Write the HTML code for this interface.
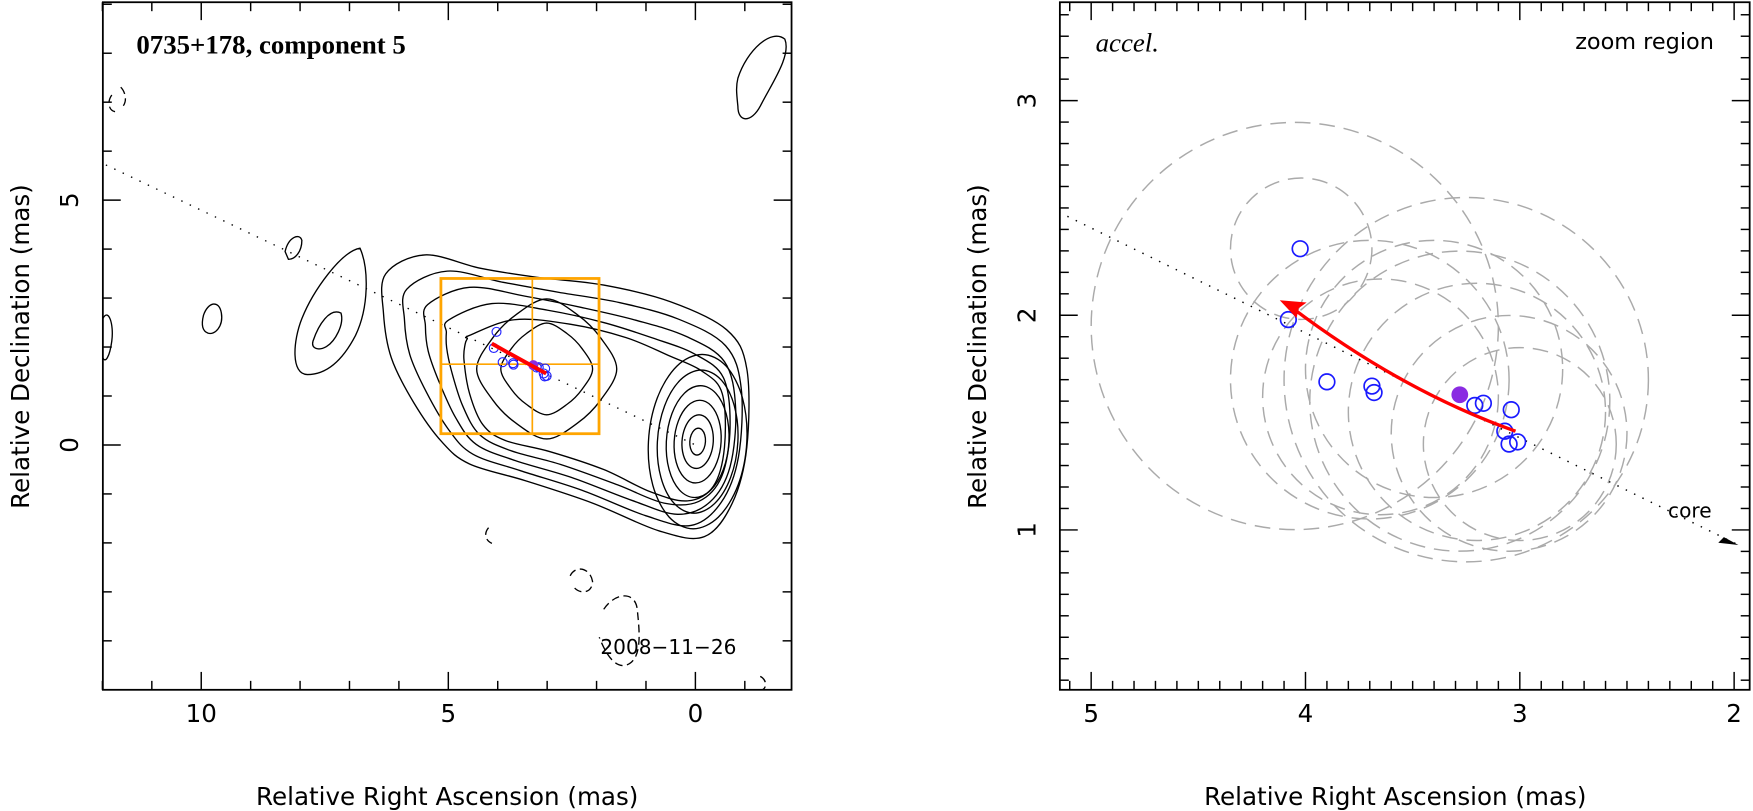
<!DOCTYPE html>
<html><head><meta charset="utf-8"><style>
html,body{margin:0;background:#fff;overflow:hidden;}
svg{display:block;font-family:"DejaVu Sans","Liberation Sans",sans-serif;}
</style></head><body>
<svg id="s" width="1753" height="811" viewBox="0 0 1753 811">
<defs>
<clipPath id="cl"><rect x="92" y="2" width="616" height="615"/></clipPath>
<clipPath id="cr"><rect x="948" y="2" width="617" height="615"/></clipPath>
</defs>
<g transform="scale(1.118)">
<g id="left"></g>
<g id="right"></g>
</g>
</svg>
<script>
// ---- data ----
const compRA=[4.025,4.08,3.90,3.69,3.68,3.21,3.17,3.04,3.07,3.05,3.01];
const compDec=[2.31,1.98,1.69,1.67,1.64,1.58,1.59,1.56,1.46,1.40,1.41];
const filledRA=[3.28];
const filledDec=[1.63];
const arrowRA=[3.02,3.55,4.12];
const arrowDec=[1.46,1.70,2.07];
const ringRA=[4.02,4.05,3.70,3.65,3.28,3.20,3.05,3.00,3.25,3.40];
const ringDec=[2.31,1.95,1.70,1.62,1.60,1.55,1.45,1.40,1.70,1.75];
const ringR=[0.33,0.95,0.65,0.55,0.70,0.60,0.55,0.45,0.85,0.60];
const leftXTicks=[0,5,10];
const leftYTicks=[0,5];
const rightXTicks=[2,3,4,5];
const rightYTicks=[1,2,3];

const NS="http://www.w3.org/2000/svg";
function mk(p,t,a){const e=document.createElementNS(NS,t);for(const k in a)e.setAttribute(k,a[k]);p.appendChild(e);return e;}
const lx=v=>622-44.2*v, ly=v=>398-43.8*v;
const rx=v=>976+(5-v)*191.7, ry=v=>90+(3-v)*192;
const L=document.getElementById('left'), R=document.getElementById('right');

function smooth(pts){let d=`M${pts[0][0]},${pts[0][1]}`;const n=pts.length;
 for(let i=0;i<n;i++){const p0=pts[(i-1+n)%n],p1=pts[i],p2=pts[(i+1)%n],p3=pts[(i+2)%n];
  d+=` C${p1[0]+(p2[0]-p0[0])/6},${p1[1]+(p2[1]-p0[1])/6} ${p2[0]-(p3[0]-p1[0])/6},${p2[1]-(p3[1]-p1[1])/6} ${p2[0]},${p2[1]}`;}
 return d+'Z';}

// ---------- LEFT ----------
const lp=mk(L,'g',{'clip-path':'url(#cl)'});


const outerShape=[[345,245],[380,228],[430,240],[480,248],[540,255],[600,270],[650,295],[668,330],[668,400],[655,450],[630,480],[590,475],[530,450],[470,430],[420,415],[395,395],[370,360],[350,320],[343,280]];
const innerShape=[[420,300],[460,286],[510,290],[560,302],[598,318],[628,332],[646,352],[648,400],[638,435],[615,448],[582,440],[540,420],[492,404],[452,394],[432,380],[420,352],[415,322],[416,308],[418,303]];
function cpath(d,name,dash){const p=mk(lp,'path',{d:d,fill:'none',stroke:'#000','stroke-width':1.2});
 if(dash)p.setAttribute('stroke-dasharray','7 4');
 
 }
for(let k=0;k<5;k++){const t=k/4;cpath(smooth(outerShape.map((p,i)=>[p[0]+(innerShape[i][0]-p[0])*t,p[1]+(innerShape[i][1]-p[1])*t])),'contour-merged-'+(k+1));}
[[58,58],[38,38]].forEach((r,i)=>{const cx=489,cy=330;const pts=[];for(let a=0;a<12;a++){const th=a/12*2*Math.PI;const w=1+0.08*Math.cos(4*th);pts.push([cx+r[0]*w*Math.cos(th),cy+r[1]*w*Math.sin(th)]);}
 cpath(smooth(pts),'contour-component-'+(i+1));});
[[44,78],[36,64],[28,50],[21,37],[14,24],[7,12]].forEach((r,i)=>{const cx=624,cy=395;const pts=[];for(let a=0;a<12;a++){const th=a/12*2*Math.PI;pts.push([cx+r[0]*Math.cos(th)-4*Math.sin(th)*(r[0]/44),cy+r[1]*Math.sin(th)]);}
 cpath(smooth(pts),'contour-core-'+(i+1));});
const others=[
"M270,285 C280,260 305,225 322,222 C330,240 330,275 318,300 C305,325 290,335 275,335 C260,335 262,305 270,285Z",
"M280,305 C285,290 295,275 305,280 C308,290 300,305 292,310 C285,314 278,312 280,305Z",
"M182,282 C186,270 196,268 198,280 C200,292 192,300 186,298 C181,296 180,290 182,282Z",
"M255,225 C258,212 268,208 270,215 C270,225 264,232 258,232Z",
"M92,285 C97,275 102,290 100,305 C98,320 94,325 92,320Z",
"M660,70 C668,45 690,25 702,35 C708,50 690,75 680,95 C672,110 660,110 660,95 C659,85 658,78 660,70Z"];
others.forEach((d,i)=>cpath(d,'contour-blob-'+(i+1)));
["M510,515 C515,505 528,508 530,520 C530,530 520,532 514,526","M540,545 C550,530 568,528 570,545 C572,565 575,590 560,595 C548,598 540,580 536,570","M437,472 C432,478 435,484 440,486","M108,78 C112,82 114,90 110,95 M100,85 C95,92 98,100 104,100","M680,605 C686,608 686,615 682,617"].forEach((d,i)=>cpath(d,'negative-contour-'+(i+1),true));
const ld=mk(lp,'line',{x1:lx(12.1),y1:ly(5.8),x2:lx(0),y2:ly(0),stroke:'#000','stroke-width':1.2,'stroke-dasharray':'1.3 7'});


const bx=mk(lp,'g',{stroke:'#ffa500','stroke-width':2.5,fill:'none'});


mk(bx,'rect',{x:lx(5.15),y:ly(3.4),width:lx(1.95)-lx(5.15),height:ly(0.23)-ly(3.4)});
mk(bx,'line',{x1:lx(3.3),y1:ly(3.4),x2:lx(3.3),y2:ly(0.23),'stroke-width':1.5});
mk(bx,'line',{x1:lx(5.15),y1:ly(1.65),x2:lx(1.95),y2:ly(1.65),'stroke-width':1.5});
compRA.forEach((v,i)=>{const c=mk(lp,'circle',{cx:lx(v),cy:ly(compDec[i]),r:4,fill:'none',stroke:'#2020ff','stroke-width':1});

});
filledRA.forEach((v,i)=>{const c=mk(lp,'circle',{cx:lx(v),cy:ly(filledDec[i]),r:4.5,fill:'#8a2be2'});

});
const la=mk(lp,'path',{d:`M${lx(arrowRA[0])},${ly(arrowDec[0])} Q${lx(arrowRA[1])},${ly(arrowDec[1])-2} ${lx(arrowRA[2])},${ly(arrowDec[2])}`,fill:'none',stroke:'#f00','stroke-width':3.5});


function frame(G,x0,y0,w,h,xt,yt,sx,sy,xmin,xmax,ymin,ymax,minor){
 const f=mk(G,'rect',{x:x0,y:y0,width:w,height:h,fill:'none',stroke:'#000','stroke-width':1.6});
 
 
 for(let v=Math.ceil(xmin/minor)*minor;v<=xmax+1e-9;v+=minor){const X=sx(v);const maj=Math.abs(v-Math.round(v/(xt[1]-xt[0]))*(xt[1]-xt[0]))<1e-6;const l=maj?16:8;
  mk(G,'line',{x1:X,y1:y0+h,x2:X,y2:y0+h-l,stroke:'#000','stroke-width':1.3});mk(G,'line',{x1:X,y1:y0,x2:X,y2:y0+l,stroke:'#000','stroke-width':1.3});}
 for(let v=Math.ceil(ymin/minor)*minor;v<=ymax+1e-9;v+=minor){const Y=sy(v);const maj=Math.abs(v-Math.round(v/(yt[1]-yt[0]))*(yt[1]-yt[0]))<1e-6;const l=maj?16:8;
  mk(G,'line',{x1:x0,y1:Y,x2:x0+l,y2:Y,stroke:'#000','stroke-width':1.3});mk(G,'line',{x1:x0+w,y1:Y,x2:x0+w-l,y2:Y,stroke:'#000','stroke-width':1.3});}
 xt.forEach(v=>{const t=mk(G,'text',{x:sx(v),y:y0+h+29,'text-anchor':'middle','font-size':22});t.textContent=v;
  
  });
 yt.forEach(v=>{const t=mk(G,'text',{x:x0-22,y:sy(v),'text-anchor':'middle','font-size':22,transform:`rotate(-90 ${x0-22} ${sy(v)})`});t.textContent=v;
  
  });
}
frame(L,92,2,616,615,leftXTicks,leftYTicks,lx,ly,-1.9,12.1,-4.9,9,1);
function txt(G,x,y,s,o,name){const t=mk(G,'text',Object.assign({x:x,y:y,'font-size':22},o||{}));t.textContent=s;
 
 return t;}
txt(L,122,48,'0735+178, component 5',{'font-family':'"Liberation Serif",serif','font-size':24,'font-weight':'bold'},'source-title');
txt(L,537,585,'2008−11−26',{'font-size':18},'epoch-label');
txt(L,400,720,'Relative Right Ascension (mas)',{'text-anchor':'middle'},'x-axis-title');
txt(L,26,310,'Relative Declination (mas)',{'text-anchor':'middle',transform:'rotate(-90 26 310)'},'y-axis-title');

// ---------- RIGHT ----------
const rp=mk(R,'g',{'clip-path':'url(#cr)'});


ringRA.forEach((v,i)=>{const c=mk(rp,'circle',{cx:rx(v),cy:ry(ringDec[i]),r:ringR[i]*191.7,fill:'none',stroke:'#aaa','stroke-width':1.3,'stroke-dasharray':'14 8'});

});
const rd=mk(rp,'line',{x1:rx(5.15),y1:ry(2.48),x2:rx(1.98),y2:ry(0.93),stroke:'#000','stroke-width':1.3,'stroke-dasharray':'1.3 7'});


const ah=mk(rp,'path',{d:`M${rx(1.98)},${ry(0.93)} l-18,-2 l5,-5 z`,fill:'#000'});


txt(R,1492,463,'core',{'font-size':18},'core-label');
compRA.forEach((v,i)=>{const c=mk(rp,'circle',{cx:rx(v),cy:ry(compDec[i]),r:7,fill:'none',stroke:'#1a1aff','stroke-width':1.5});

});
filledRA.forEach((v,i)=>{const c=mk(rp,'circle',{cx:rx(v),cy:ry(filledDec[i]),r:7.5,fill:'#8a2be2'});

});
const x0=rx(arrowRA[0]),y0=ry(arrowDec[0]),x2=rx(arrowRA[2]),y2=ry(arrowDec[2]),x1=rx(arrowRA[1]),y1=ry(arrowDec[1])+10;
const ra=mk(rp,'path',{d:`M${x0},${y0} Q${x1},${y1} ${x2+10},${y2+6}`,fill:'none',stroke:'#f00','stroke-width':3});


const rh=mk(rp,'path',{d:`M${x2},${y2} l24,2 l-7,5 l-2,9 z`,fill:'#f00'});


frame(R,948,2,617,615,rightXTicks,rightYTicks,rx,ry,1.93,5.15,0.25,3.4,0.1);
txt(R,980,46,'accel.',{'font-family':'"Liberation Serif",serif','font-style':'italic','font-size':24},'model-label');
txt(R,1533,44,'zoom region',{'text-anchor':'end','font-size':20},'zoom-region-label');
txt(R,1248,720,'Relative Right Ascension (mas)',{'text-anchor':'middle'},'x-axis-title');
txt(R,882,310,'Relative Declination (mas)',{'text-anchor':'middle',transform:'rotate(-90 882 310)'},'y-axis-title');
</script>
</body></html>
